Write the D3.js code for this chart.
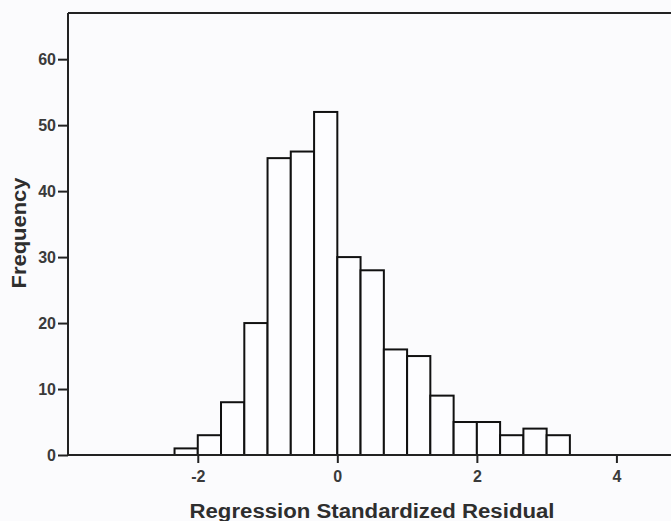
<!DOCTYPE html>
<html>
<head>
<meta charset="utf-8">
<script src="https://cdn.jsdelivr.net/npm/d3@7"></script>
<style>
  body { margin: 0; background: #fbfbfd; }
  .chart text { font-family: "Liberation Sans", Arial, sans-serif; fill: #2e2e2e; }
  .axis path, .axis line { stroke: #222; stroke-width: 2; }
  .axis text { font-size: 16px; font-weight: bold; fill: #3a3a3a; }
  .bar { fill: #fdfdff; stroke: #111; stroke-width: 2; }
</style>
</head>
<body>
<svg class="chart"></svg>
<script>
// histogram bins (lower edge, upper edge) and counts
var binLower = [-2.333, -2.0, -1.667, -1.333, -1.0, -0.667, -0.333, 0.0, 0.333, 0.667, 1.0, 1.333, 1.667, 2.0, 2.333, 2.667, 3.0];
var binUpper = [-2.0, -1.667, -1.333, -1.0, -0.667, -0.333, 0.0, 0.333, 0.667, 1.0, 1.333, 1.667, 2.0, 2.333, 2.667, 3.0, 3.333];
var counts   = [1, 3, 8, 20, 45, 46, 52, 30, 28, 16, 15, 9, 5, 5, 3, 4, 3];
var xTicks = [-2, 0, 2, 4];
var yTicks = [0, 10, 20, 30, 40, 50, 60];

var W = 671, H = 521;
var plotLeft = 68, plotTop = 13, plotBottom = 455, plotRight = 682;

var data = counts.map(function(c, i) { return {x0: binLower[i], x1: binUpper[i], n: c}; });

var svg = d3.select(".chart")
    .attr("width", W)
    .attr("height", H);

var x = d3.scaleLinear()
    .domain([-3.86, 4.94])
    .range([plotLeft, plotRight]);

var y = d3.scaleLinear()
    .domain([0, 67])
    .range([plotBottom, plotTop]);

// bars
svg.selectAll(".bar")
    .data(data)
  .enter().append("rect")
    .attr("class", "bar")
    .attr("x", function(d) { return x(d.x0); })
    .attr("y", function(d) { return y(d.n); })
    .attr("width", function(d) { return x(d.x1) - x(d.x0); })
    .attr("height", function(d) { return plotBottom - y(d.n); });

// frame top
svg.append("line")
    .attr("x1", plotLeft).attr("x2", plotRight)
    .attr("y1", plotTop).attr("y2", plotTop)
    .attr("stroke", "#222").attr("stroke-width", 2);

var plain = function(d) { return String(d); };
var xAxis = d3.axisBottom(x).tickValues(xTicks).tickFormat(plain).tickSize(8).tickPadding(8).tickSizeOuter(0);
var yAxis = d3.axisLeft(y).tickValues(yTicks).tickFormat(plain).tickSize(10).tickPadding(2).tickSizeOuter(0);

svg.append("g")
    .attr("class", "axis x")
    .attr("transform", "translate(0," + plotBottom + ")")
    .call(xAxis);

svg.append("g")
    .attr("class", "axis y")
    .attr("transform", "translate(" + plotLeft + ",0)")
    .call(yAxis);

// axis lines run the full frame
svg.select(".axis.y path").attr("d", "M0," + plotTop + "V" + plotBottom);
svg.select(".axis.x path").attr("d", "M" + plotLeft + ",0H" + plotRight);

svg.append("text")
    .attr("x", 372)
    .attr("y", 518)
    .attr("text-anchor", "middle")
    .style("font-size", "20px")
    .style("font-weight", "bold")
    .attr("textLength", 365)
    .attr("lengthAdjust", "spacingAndGlyphs")
    .text("Regression Standardized Residual");

svg.append("text")
    .attr("transform", "translate(26,233) rotate(-90)")
    .attr("text-anchor", "middle")
    .style("font-size", "20px")
    .style("font-weight", "bold")
    .attr("textLength", 111)
    .attr("lengthAdjust", "spacingAndGlyphs")
    .text("Frequency");
</script>
</body>
</html>
